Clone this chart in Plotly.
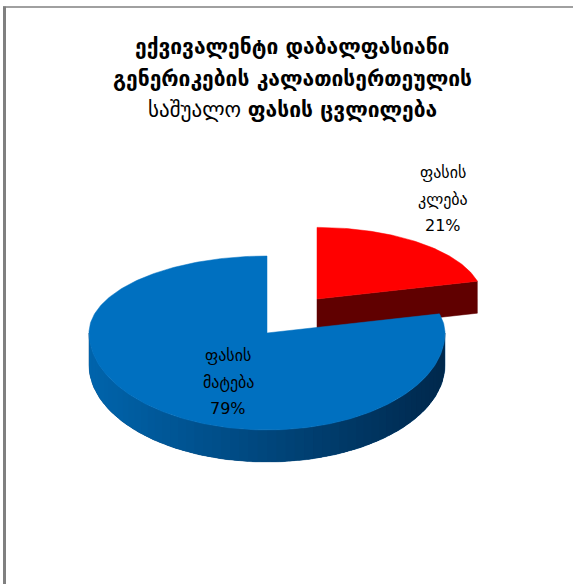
import numpy as np
import plotly.graph_objects as go

# ---- data -------------------------------------------------------------
categories = ["ფასის კლება", "ფასის მატება"]
label_lines = [["ფასის", "კლება"], ["ფასის", "მატება"]]
shares = [21, 79]

title_lines = [
    "<b>ექვივალენტი დაბალფასიანი</b>",
    "<b>გენერიკების კალათისერთეულის</b>",
    "საშუალო <b>ფასის ცვლილება</b>",
]

# ---- styling ----------------------------------------------------------
W, H = 573, 584
top_colors = ["#FF0000", "#0070C0"]
side_colors = ["#600000", None]          # blue side uses a gradient
side_left_rgb = np.array([0, 100, 172])
side_right_rgb = np.array([0, 40, 76])
FONT = "DejaVu Sans"

# pie geometry in pixel space (perspective approximated by a taller front half)
cx, cy = 267, 333
rx, ry_back, ry_front = 178, 77, 97
depth = 32
explode_offset = (50, -34)
explode_scale = 0.93


def rim(theta_deg, ox, oy, s=1.0, dz=0.0):
    t = np.radians(np.asarray(theta_deg, dtype=float))
    sn = np.sin(t)
    ry = np.where(sn >= 0, ry_back, ry_front)
    x = ox + s * rx * np.cos(t)
    y = oy - s * ry * sn + dz
    return x, y


def poly(fig, xs, ys, color, line_width=0.0):
    fig.add_trace(go.Scatter(
        x=list(xs) + [xs[0]], y=list(ys) + [ys[0]],
        mode="lines", fill="toself", fillcolor=color,
        line=dict(color=color, width=line_width),
        hoverinfo="skip", showlegend=False,
    ))


fig = go.Figure()

# slice angles: start at 12 o'clock, run clockwise
total = float(sum(shares))
starts, ends = [], []
a = 90.0
for v in shares:
    starts.append(a)
    a -= 360.0 * v / total
    ends.append(a)

# ---- exploded slice (first category), drawn first: it sits behind ----
s0, e0 = starts[0], ends[0]
ax0, ay0 = cx + explode_offset[0], cy + explode_offset[1]
# radial face at the trailing edge
ex, ey = rim(e0, ax0, ay0, explode_scale)
poly(fig, [ax0, float(ex), float(ex), ax0],
     [ay0, float(ey), float(ey) + depth, ay0 + depth], side_colors[0], 0.5)
# top face
th = np.linspace(s0, e0, 80)
x, y = rim(th, ax0, ay0, explode_scale)
poly(fig, [ax0] + list(x), [ay0] + list(y), top_colors[0], 0.5)

# ---- main slice: curved front wall with shading ----------------------
vis_a, vis_b = 0.0, -180.0


def side_color(xm):
    f = (xm - (cx - rx)) / (2 * rx)
    f = min(max(f, 0.0), 1.0)
    rgb = side_left_rgb + (side_right_rgb - side_left_rgb) * f
    return "rgb(%d,%d,%d)" % tuple(int(round(c)) for c in rgb)


# solid base under the shading strips, so no seams show through
tb = np.linspace(vis_a, vis_b, 120)
xt, yt = rim(tb, cx, cy)
poly(fig, list(xt) + list(xt[::-1]), list(yt) + list(yt[::-1] + depth),
     side_color(cx), 0.5)

n_strips = 60
edges = np.linspace(vis_a, vis_b, n_strips + 1)
step = edges[1] - edges[0]
for i in range(n_strips):
    a0 = edges[i]
    a1 = edges[i + 1] + (step * 0.6 if i < n_strips - 1 else 0.0)
    t2 = np.linspace(a0, a1, 5)
    xt, yt = rim(t2, cx, cy)
    xb, yb = xt[::-1], yt[::-1] + depth
    xm = float(np.mean(rim(np.linspace(edges[i], edges[i + 1], 5), cx, cy)[0]))
    poly(fig, list(xt) + list(xb), list(yt) + list(yb), side_color(xm))

# top face of the main slice
s1, e1 = starts[1], ends[1]
th = np.linspace(s1, e1, 300)
x, y = rim(th, cx, cy)
poly(fig, [cx] + list(x), [cy] + list(y), top_colors[1], 0.5)

# ---- labels -------------------------------------------------------------
label_pos = [(443, [172, 199, 225]), (228, [355, 382, 408])]
annotations = []
for (lx, ys), lines, v in zip(label_pos, label_lines, shares):
    texts = lines + ["%d%%" % v]
    for t, yy in zip(texts, ys):
        annotations.append(dict(
            x=lx, y=yy, xref="x", yref="y", text=t, showarrow=False,
            font=dict(family=FONT, size=16, color="#000000"),
            xanchor="center", yanchor="middle",
        ))

for t, yy in zip(title_lines, [47, 79, 110]):
    annotations.append(dict(
        x=292, y=yy, xref="x", yref="y", text=t, showarrow=False,
        font=dict(family=FONT, size=21, color="#000000"),
        xanchor="center", yanchor="middle",
    ))

# frame lines of the chart area
shapes = [
    dict(type="line", xref="x", yref="y", x0=3, x1=W, y0=7, y1=7,
         line=dict(color="#808080", width=1.5)),
    dict(type="line", xref="x", yref="y", x0=4.5, x1=4.5, y0=6.5, y1=H,
         line=dict(color="#808080", width=3)),
]

fig.update_layout(
    width=W, height=H,
    margin=dict(l=0, r=0, t=0, b=0),
    paper_bgcolor="white", plot_bgcolor="white",
    xaxis=dict(range=[0, W], visible=False, fixedrange=True),
    yaxis=dict(range=[H, 0], visible=False, fixedrange=True),
    annotations=annotations, shapes=shapes,
    showlegend=False,
)

fig.write_html("out.html")
